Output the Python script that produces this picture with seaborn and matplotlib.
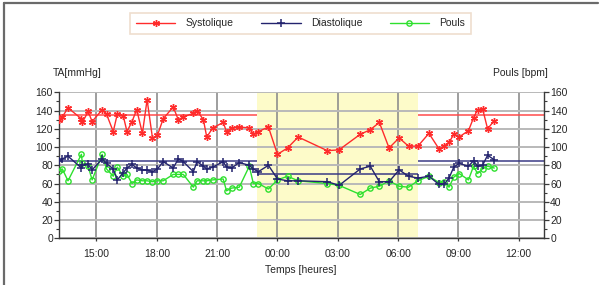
import matplotlib
matplotlib.use("Agg")
import matplotlib.pyplot as plt
from matplotlib.lines import Line2D
from matplotlib.ticker import FixedLocator, MultipleLocator
import numpy as np
import pandas as pd
import seaborn as sns

# ---------------- data ----------------
times = ["13:08", "13:18", "13:35", "14:15", "14:18", "14:35", "14:47", "15:17", "15:30", "15:50",
         "16:02", "16:20", "16:31", "16:46", "17:00", "17:17", "17:31", "17:47", "18:02", "18:19",
         "18:49", "19:04", "19:19", "19:49", "20:00", "20:19", "20:29", "20:47", "21:18", "21:28",
         "21:43", "22:06", "22:36", "22:48", "23:03", "23:33", "00:00", "00:30", "01:02", "02:29",
         "03:04", "04:07", "04:37", "05:04", "05:33", "06:03", "06:31", "06:59", "07:32", "08:02",
         "08:17", "08:32", "08:46", "09:02", "09:30", "09:45", "09:57", "10:12", "10:27", "10:47"]
systolique = [130, 133, 143, 131, 127, 139, 128, 141, 136, 117,
              136, 134, 117, 128, 141, 115, 152, 110, 113, 131,
              144, 130, 133, 137, 140, 130, 111, 121, 127, 117,
              121, 122, 121, 114, 117, 122, 92, 99, 111, 96,
              97, 114, 119, 127, 99, 110, 101, 101, 115, 98,
              101, 105, 114, 111, 118, 132, 141, 142, 120, 129]
diastolique = [85, 87, 90, 77, 80, 81, 75, 87, 82, 76,
               64, 72, 77, 81, 77, 75, 75, 73, 76, 84,
               77, 87, 84, 73, 84, 79, 76, 78, 84, 78,
               77, 83, 80, 76, 73, 80, 65, 63, 63, 62,
               58, 76, 79, 62, 62, 75, 68, 66, 68, 59,
               59, 66, 78, 82, 79, 85, 79, 80, 91, 86]
pouls = [74, 76, 63, 92, 82, 79, 64, 92, 76, 68,
         78, 68, 70, 60, 64, 63, 63, 62, 63, 63,
         70, 70, 70, 56, 63, 63, 63, 64, 65, 52,
         55, 56, 79, 60, 60, 54, 64, 68, 63, 60,
         58, 48, 55, 57, 63, 57, 56, 63, 68, 61,
         62, 56, 67, 71, 64, 79, 71, 76, 79, 77]

seuil_jour_sys = 135
seuil_jour_dia = 85
seuil_nuit_dia = 70
nuit_debut, nuit_fin = 23.0, 31.0          # 23:00 -> 07:00
x_debut, x_fin = 13.15, 37.25

tick_hours = [15, 18, 21, 24, 27, 30, 33, 36]
tick_labels = ["15:00", "18:00", "21:00", "00:00", "03:00", "06:00", "09:00", "12:00"]
y_ticks = list(range(0, 161, 20))


def to_hours(t):
    h, m = map(int, t.split(":"))
    v = h + m / 60
    return v + 24 if v < 12 else v


df = pd.DataFrame({"t": [to_hours(t) for t in times],
                   "Systolique": systolique,
                   "Diastolique": diastolique,
                   "Pouls": pouls})

# ---------------- styling ----------------
sns.set_theme(style="white")
plt.rcParams["font.family"] = ["Liberation Sans", "DejaVu Sans"]

RED = "#ff2b2b"
NAVY = "#23236e"
GREEN = "#2ee02e"
FS = 7.5

fig = plt.figure(figsize=(6.05, 2.85), dpi=100)
ax = fig.add_axes([0.098, 0.164, 0.801, 0.512])
ax.set_xlim(x_debut, x_fin)
ax.set_ylim(0, 160)

ax.axvspan(nuit_debut, nuit_fin, color="#fdfbc9", zorder=0, lw=0)

# grid
ax.set_axisbelow(True)
ax.yaxis.set_major_locator(FixedLocator(y_ticks))
ax.yaxis.set_minor_locator(MultipleLocator(10))
ax.xaxis.set_major_locator(FixedLocator(tick_hours))
ax.set_xticklabels(tick_labels)
ax.grid(False)
ax.yaxis.grid(True, color="#b9b9b9", lw=1.4)
ax.xaxis.grid(True, color="#8e8e8e", lw=1.2)

# threshold lines
ax.hlines([seuil_jour_sys, seuil_jour_sys], [x_debut, nuit_fin], [nuit_debut, x_fin],
          color="#ff4a4a", lw=1.1, zorder=2)
ax.hlines([seuil_jour_dia, seuil_jour_dia], [x_debut, nuit_fin], [nuit_debut, x_fin],
          color="#3a3a85", lw=1.1, zorder=2)
ax.hlines(seuil_nuit_dia, nuit_debut, nuit_fin, color="#3a3a85", lw=1.1, zorder=2)

# series
sns.lineplot(data=df, x="t", y="Pouls", ax=ax, color=GREEN, lw=1.0, sort=False,
             marker="o", markersize=3.8, markerfacecolor="none",
             markeredgecolor=GREEN, markeredgewidth=1.0, zorder=3)
sns.lineplot(data=df, x="t", y="Diastolique", ax=ax, color=NAVY, lw=1.0, sort=False,
             marker="+", markersize=5.5, markeredgecolor=NAVY, markeredgewidth=1.1, zorder=4)
sns.lineplot(data=df, x="t", y="Systolique", ax=ax, color=RED, lw=1.0, sort=False,
             marker=(6, 2, 0), markersize=5, markeredgecolor=RED, markeredgewidth=1.0, zorder=5)

ax.set_xlabel("")
ax.set_ylabel("")

for s in ["top", "right"]:
    ax.spines[s].set_visible(False)
for s in ["left", "bottom"]:
    ax.spines[s].set_visible(True)
    ax.spines[s].set_color("#3a3a3a")
    ax.spines[s].set_linewidth(1.0)

ax.tick_params(axis="y", which="major", direction="out", length=3.5, width=0.9,
               color="#3a3a3a", labelsize=FS, pad=1, left=True)
ax.tick_params(axis="y", which="minor", direction="out", length=2, width=0.8,
               color="#3a3a3a", left=True)
ax.tick_params(axis="x", which="major", direction="out", length=2.5, width=0.9,
               color="#3a3a3a", labelsize=FS, pad=5, bottom=True)

ax2 = ax.twinx()
ax2.set_ylim(0, 160)
ax2.yaxis.set_major_locator(FixedLocator(y_ticks))
ax2.yaxis.set_minor_locator(MultipleLocator(10))
ax2.grid(False)
for s in ["top", "left", "bottom"]:
    ax2.spines[s].set_visible(False)
ax2.spines["right"].set_visible(True)
ax2.spines["right"].set_color("#3a3a3a")
ax2.spines["right"].set_linewidth(1.0)
ax2.tick_params(axis="y", which="major", direction="out", length=3.5, width=0.9,
                color="#3a3a3a", labelsize=FS, pad=1, right=True)
ax2.tick_params(axis="y", which="minor", direction="out", length=2, width=0.8,
                color="#3a3a3a", right=True)

# axis titles
fig.text(0.088, 0.744, "TA[mmHg]", fontsize=FS, ha="left", va="center")
fig.text(0.906, 0.744, "Pouls [bpm]", fontsize=FS, ha="right", va="center")
fig.text(0.497, 0.052, "Temps [heures]", fontsize=FS, ha="center", va="center")

# legend
handles = [
    Line2D([], [], color=RED, lw=1.0, marker=(6, 2, 0), markersize=5,
           markeredgecolor=RED, markeredgewidth=1.0),
    Line2D([], [], color=NAVY, lw=1.0, marker="+", markersize=5.5,
           markeredgecolor=NAVY, markeredgewidth=1.1),
    Line2D([], [], color=GREEN, lw=1.0, marker="o", markersize=3.8,
           markerfacecolor="none", markeredgecolor=GREEN, markeredgewidth=1.0),
]
leg = fig.legend(handles, ["Systolique", "Diastolique", "Pouls"], loc="center",
                 bbox_to_anchor=(0.497, 0.918), ncol=3, fontsize=FS, frameon=True,
                 fancybox=False, edgecolor="#ead6c2", handlelength=3.8,
                 columnspacing=2.6, borderpad=0.55, handletextpad=1.0)
leg.get_frame().set_linewidth(1.2)

# outer frame (left and top)
fig.add_artist(Line2D([0.006, 0.006], [0.0, 0.988], transform=fig.transFigure,
                      color="#6a6a6a", lw=1.6))
fig.add_artist(Line2D([0.006, 0.988], [0.988, 0.988], transform=fig.transFigure,
                      color="#6a6a6a", lw=1.6))

fig.savefig("out.png", dpi=100)
